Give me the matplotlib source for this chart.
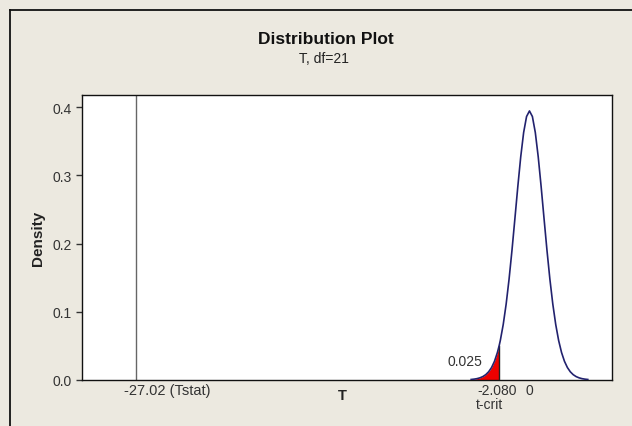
import matplotlib
matplotlib.use("Agg")
import matplotlib.pyplot as plt
from matplotlib import transforms
from matplotlib.lines import Line2D

# ---- data ----
title = "Distribution Plot"
subtitle = "T, df=21"
x_label = "T"
y_label = "Density"

t_values = [-4.0, -3.8, -3.6, -3.4, -3.2, -3.0, -2.8, -2.6, -2.4, -2.2, -2.08,
            -2.0, -1.8, -1.6, -1.4, -1.2, -1.0, -0.8, -0.6, -0.4, -0.2, 0.0,
            0.2, 0.4, 0.6, 0.8, 1.0, 1.2, 1.4, 1.6, 1.8, 2.0, 2.2, 2.4, 2.6,
            2.8, 3.0, 3.2, 3.4, 3.6, 3.8, 4.0]
density = [0.00078, 0.00125, 0.00199, 0.00317, 0.00499, 0.00780, 0.01203,
           0.01830, 0.02740, 0.04027, 0.05022,
           0.05792, 0.08134, 0.11123, 0.14773, 0.19007, 0.23632, 0.28336,
           0.32700, 0.36265, 0.38606, 0.39423,
           0.38606, 0.36265, 0.32700, 0.28336, 0.23632, 0.19007, 0.14773,
           0.11123, 0.08134, 0.05792, 0.04027, 0.02740, 0.01830, 0.01203,
           0.00780, 0.00499, 0.00317, 0.00199, 0.00125, 0.00078]

t_stat = -27.02
t_crit = -2.080
tail_area_label = "0.025"
xtick_values = [-27.02, -2.080, 0]
xtick_labels = ["-27.02 (Tstat)", "-2.080", "0"]
crit_label = "t-crit"
ytick_values = [0.0, 0.1, 0.2, 0.3, 0.4]
ytick_labels = ["0.0", "0.1", "0.2", "0.3", "0.4"]

# ---- styling ----
BG = "#ECE9E0"
plt.rcParams["font.family"] = ["Liberation Sans", "DejaVu Sans"]

fig = plt.figure(figsize=(6.32, 4.27), dpi=100, facecolor=BG)
W, H = 632, 427
ax = fig.add_axes([82 / W, (H - 381) / H, 530 / W, 285 / H])
ax.set_facecolor("white")

# outer frame (top and left)
fy = (H - 10.5) / H
fx = 10 / W
fig.add_artist(Line2D([fx, 1.0], [fy, fy], color="#111111", lw=1.3,
                      transform=fig.transFigure))
fig.add_artist(Line2D([fx, fx], [0.0, fy], color="#111111", lw=1.3,
                      transform=fig.transFigure))

# red tail fill
tail_x = [t for t in t_values if t <= t_crit]
tail_y = [d for t, d in zip(t_values, density) if t <= t_crit]
ax.fill_between(tail_x, 0, tail_y, color="#ee0000", lw=0, zorder=2)
ax.plot([t_crit, t_crit], [0, tail_y[-1]], color="#222222", lw=1.0, zorder=3)

# curve
ax.plot(t_values, density, color="#22226e", lw=1.2, zorder=4)

# Tstat line
ax.axvline(t_stat, color="#666666", lw=1.0, zorder=1)

ax.set_xlim(-30.69, 5.66)
ax.set_ylim(0, 0.4176)

for s in ax.spines.values():
    s.set_color("#111111")
    s.set_linewidth(1.0)

ax.set_xticks([])
ax.set_yticks(ytick_values)
ax.set_yticklabels(ytick_labels)
ax.tick_params(axis="y", direction="out", length=4, width=1, color="#333333",
               labelsize=10, labelcolor="#333333", pad=3.5)

# x tick labels as text with pixel offsets
blend = transforms.blended_transform_factory(ax.transData, ax.transAxes)
offsets = [(-11.5, -10.5, "left", 10.5), (-2.5, -10.5, "center", 10),
           (0, -10.5, "center", 10)]
for v, lab, (dx, dy, ha, fs) in zip(xtick_values, xtick_labels, offsets):
    tr = transforms.offset_copy(blend, fig=fig, x=dx, y=dy, units="dots")
    ax.text(v, 0, lab, transform=tr, ha=ha, va="center", fontsize=fs,
            color="#333333")
tr = transforms.offset_copy(blend, fig=fig, x=-23, y=-24, units="dots")
ax.text(t_crit, 0, crit_label, transform=tr, ha="left", va="center",
        fontsize=10, color="#333333")

# tail area label
tr = transforms.offset_copy(ax.transData, fig=fig, x=-34.5, y=19, units="dots")
ax.text(t_crit, 0, tail_area_label, transform=tr, ha="center", va="center",
        fontsize=10, color="#333333")

# axis labels
ax.text(0.4906, 0, x_label, transform=transforms.offset_copy(
    ax.transAxes, fig=fig, x=0, y=-15, units="dots"),
    ha="center", va="center", fontsize=10.5, fontweight="bold", color="#222222")
fig.text(38 / W, (H - 238) / H, y_label, rotation=90, ha="center",
         va="center", fontsize=11, fontweight="bold", color="#222222")

# titles
fig.text(326 / W, (H - 40) / H, title, ha="center", va="center",
         fontsize=12.5, fontweight="bold", color="#111111")
fig.text(324 / W, (H - 59) / H, subtitle, ha="center", va="center",
         fontsize=10, color="#222222")

fig.savefig("out.png", dpi=100, facecolor=BG)
